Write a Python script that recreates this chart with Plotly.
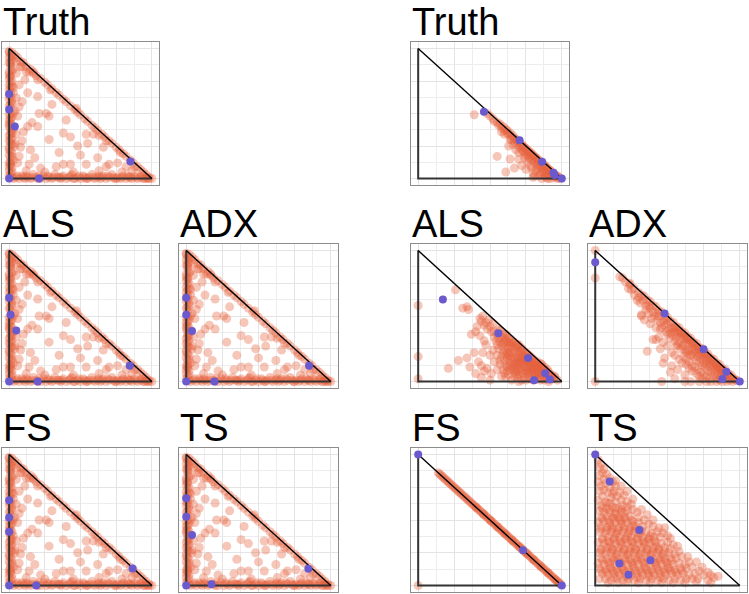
import plotly.graph_objects as go

# ---------------- data ----------------
# simplex corners (top, origin, right)
simplex_x = [0, 0, 1]
simplex_y = [1, 0, 0]

panel_names = ["Truth", "ALS", "ADX", "FS", "TS"]

# left-hand example: points spread over the whole simplex (shared by all left panels)
left_edge = [(0,0.98),(0.01,0.95),(0,0.93),(0.02,0.91),(0,0.89),(0.01,0.86),(0.03,0.84),(0,0.82),(0.01,0.79),(0,0.77),
             (0.02,0.75),(0,0.72),(0.01,0.70),(0,0.68),(0.03,0.66),(0.01,0.63),(0,0.61),(0.02,0.58),(0,0.56),(0.01,0.54),
             (0.04,0.52),(0,0.49),(0.02,0.47),(0,0.45),(0.01,0.43),(0,0.40),(0.03,0.38),(0.01,0.36),(0,0.33),(0.02,0.31),
             (0,0.29),(0.01,0.27),(0.04,0.25),(0,0.22),(0.02,0.20),(0,0.18),(0.01,0.16),(0.03,0.14),(0,0.12),(0.01,0.10),
             (0.02,0.08),(0,0.06),(0.01,0.04),(0,0.02),(0.02,0.01),(0,0.97),(0.01,0.9),(0,0.8),(0.01,0.74),(0,0.64),
             (0.01,0.5),(0,0.42),(0.01,0.34),(0,0.24),(0.01,0.13),(0,0.09),
             (0.02,0.94),(0.01,0.88),(0.02,0.83),(0.01,0.78),(0.02,0.71),(0.01,0.66),(0.02,0.60),(0.01,0.57),(0.03,0.50),
             (0.01,0.46),(0.02,0.41),(0.01,0.39),(0.02,0.35),(0.01,0.30),(0.02,0.26),(0.01,0.21),(0.02,0.17),(0.01,0.11),
             (0.02,0.05)]
left_bottom = [(0.03,0),(0.05,0.01),(0.07,0),(0.09,0.02),(0.11,0),(0.13,0.01),(0.15,0),(0.17,0.03),(0.19,0.01),(0.22,0),
               (0.24,0.02),(0.26,0),(0.28,0.01),(0.30,0),(0.32,0.03),(0.34,0.01),(0.36,0),(0.38,0.02),(0.40,0),(0.42,0.01),
               (0.44,0.03),(0.46,0),(0.48,0.01),(0.50,0),(0.52,0.02),(0.54,0),(0.56,0.01),(0.58,0.03),(0.60,0),(0.62,0.01),
               (0.64,0),(0.66,0.02),(0.68,0),(0.70,0.01),(0.72,0.03),(0.74,0),(0.76,0.01),(0.78,0),(0.80,0.02),(0.82,0),
               (0.84,0.01),(0.86,0),(0.88,0.02),(0.90,0),(0.92,0.01),(0.94,0),(0.96,0.01),(0.98,0),(1.0,0),(0.1,0.01),
               (0.2,0),(0.35,0.01),(0.45,0),(0.55,0),(0.65,0.01),(0.75,0),(0.85,0.01),(0.95,0),
               (0.06,0.02),(0.12,0.02),(0.16,0.01),(0.21,0.02),(0.27,0.02),(0.31,0.01),(0.37,0.01),(0.43,0.02),(0.49,0.02),
               (0.53,0.01),(0.59,0.01),(0.63,0.02),(0.69,0.02),(0.73,0.01),(0.79,0.01),(0.83,0.02),(0.89,0.01),(0.93,0.02),
               (0.97,0.0)]
left_hyp = [(0.02,0.97),(0.04,0.95),(0.06,0.93),(0.08,0.90),(0.10,0.89),(0.12,0.86),(0.15,0.84),(0.17,0.82),(0.19,0.79),(0.22,0.77),
            (0.25,0.74),(0.27,0.72),(0.30,0.69),(0.33,0.66),(0.35,0.64),(0.38,0.61),(0.40,0.59),(0.43,0.56),(0.46,0.53),(0.48,0.51),
            (0.50,0.49),(0.53,0.46),(0.55,0.44),(0.58,0.41),(0.60,0.39),(0.62,0.37),(0.65,0.34),(0.67,0.32),(0.70,0.29),(0.72,0.27),
            (0.75,0.24),(0.77,0.22),(0.80,0.19),(0.82,0.17),(0.85,0.14),(0.87,0.12),(0.90,0.09),(0.92,0.07),(0.94,0.05),(0.96,0.03),
            (0.98,0.01),(0.09,0.86),(0.14,0.82),(0.20,0.76),(0.63,0.33),(0.68,0.29),(0.78,0.2),(0.88,0.09)]
left_inner = [(0.05,0.90),(0.08,0.86),(0.12,0.82),(0.05,0.81),(0.17,0.81),(0.11,0.76),(0.07,0.72),(0.09,0.59),(0.07,0.55),(0.21,0.50),
              (0.26,0.50),(0.28,0.48),(0.20,0.40),(0.16,0.43),(0.13,0.40),(0.10,0.36),(0.05,0.34),(0.38,0.35),(0.43,0.32),(0.54,0.34),
              (0.59,0.34),(0.48,0.25),(0.15,0.22),(0.08,0.24),(0.07,0.17),(0.14,0.11),(0.22,0.08),(0.33,0.09),(0.38,0.11),(0.43,0.11),
              (0.54,0.11),(0.68,0.09),(0.70,0.11),(0.63,0.06),(0.86,0.06),(0.79,0.05),(0.30,0.57),(0.29,0.68),(0.47,0.54),(0.55,0.27),
              (0.66,0.24),(0.05,0.62),(0.06,0.48),(0.09,0.29),(0.04,0.27),(0.25,0.05),(0.45,0.05),(0.12,0.06),(0.18,0.16),(0.35,0.20),
              (0.62,0.16),(0.76,0.12),(0.82,0.09),(0.40,0.45),(0.13,0.66),(0.20,0.63),(0.03,0.70),(0.06,0.12),(0.28,0.30),(0.50,0.18)]
left_points = left_edge + left_bottom + left_hyp + left_inner

left_anchors = {
    "Truth": [(0,0.65),(0,0.53),(0.04,0.40),(0.85,0.13),(0,0),(0.21,0)],
    "ALS":   [(0,0.64),(0.01,0.51),(0.05,0.39),(0.845,0.12),(0,0),(0.20,0)],
    "ADX":   [(0,0.64),(0,0.51),(0.04,0.385),(0.85,0.12),(0,0),(0.195,0)],
    "FS":    [(0,0.65),(0,0.52),(0,0.41),(0.865,0.13),(0,0),(0.19,0)],
    "TS":    [(0,0.667),(0,0.525),(0.04,0.385),(0.845,0.128),(0,0),(0.175,0.01)],
}

# right-hand example
right_truth = [(0.39,0.49),(0.55,0.17),(0.67,0.08),(0.61,0.05),(0.72,0.10),(0.64,0.15),(0.70,0.15),
               (0.48,0.50),(0.50,0.48),(0.52,0.46),(0.53,0.44),(0.55,0.43),(0.56,0.41),(0.57,0.42),(0.58,0.39),(0.59,0.40),
               (0.60,0.37),(0.61,0.38),(0.62,0.35),(0.62,0.37),(0.63,0.34),(0.64,0.35),(0.65,0.32),(0.65,0.30),(0.66,0.33),
               (0.67,0.31),(0.67,0.28),(0.68,0.30),(0.69,0.29),(0.69,0.26),(0.70,0.28),(0.71,0.27),(0.71,0.24),(0.72,0.26),
               (0.72,0.22),(0.73,0.25),(0.73,0.21),(0.74,0.24),(0.74,0.20),(0.75,0.23),(0.75,0.18),(0.76,0.22),(0.76,0.19),
               (0.77,0.21),(0.77,0.16),(0.78,0.20),(0.78,0.17),(0.79,0.19),(0.79,0.14),(0.80,0.18),(0.80,0.15),(0.81,0.17),
               (0.81,0.12),(0.82,0.16),(0.82,0.13),(0.83,0.15),(0.83,0.10),(0.84,0.14),(0.84,0.11),(0.85,0.13),(0.85,0.08),
               (0.86,0.12),(0.86,0.09),(0.87,0.11),(0.87,0.06),(0.88,0.10),(0.88,0.07),(0.89,0.09),(0.89,0.05),(0.90,0.08),
               (0.90,0.04),(0.91,0.07),(0.91,0.03),(0.92,0.06),(0.92,0.02),(0.93,0.05),(0.93,0.03),(0.94,0.04),(0.94,0.01),
               (0.95,0.03),(0.95,0.02),(0.96,0.02),(0.96,0.01),(0.97,0.02),(0.97,0.0),(0.98,0.01),(0.99,0.0),(0.88,0.02),
               (0.85,0.03),(0.82,0.06),(0.78,0.10),(0.76,0.13),(0.80,0.04),(0.84,0.02),(0.86,0.0),(0.90,0.0),(0.74,0.16),
               (0.70,0.20),(0.68,0.22),(0.66,0.26),(0.64,0.30),(0.60,0.34),(0.58,0.36),(0.63,0.25),(0.75,0.07),(0.80,0.01),
               (0.92,0.0),(0.86,0.05),(0.83,0.08),(0.79,0.08),(0.81,0.02),(0.89,0.01)]
right_truth_anchors = [(0.458,0.513),(0.706,0.295),(0.863,0.128),(0.942,0.044),(0.95,0.026),(1,0)]

right_als = [(0.47,0.45),(0.50,0.42),(0.52,0.44),(0.49,0.47),(0.45,0.50),
             (0.53,0.38),(0.55,0.36),(0.57,0.39),(0.59,0.36),(0.56,0.33),(0.60,0.33),(0.62,0.35),
             (0.54,0.31),(0.57,0.30),(0.59,0.29),(0.61,0.31),(0.63,0.30),(0.65,0.32),(0.66,0.29),(0.58,0.27),(0.62,0.27),
             (0.56,0.25),(0.60,0.24),(0.63,0.25),(0.65,0.26),(0.67,0.24),(0.69,0.26),(0.70,0.28),(0.64,0.22),(0.68,0.21),
             (0.71,0.23),(0.61,0.21),(0.58,0.19),(0.62,0.18),(0.65,0.19),(0.67,0.17),(0.70,0.19),(0.72,0.20),(0.74,0.22),
             (0.76,0.21),(0.73,0.17),(0.69,0.15),(0.63,0.15),(0.60,0.16),(0.78,0.19),(0.57,0.13),(0.61,0.12),(0.64,0.12),
             (0.67,0.13),(0.70,0.12),(0.72,0.14),(0.75,0.15),(0.77,0.16),(0.79,0.15),(0.81,0.16),(0.83,0.15),(0.74,0.11),
             (0.78,0.12),(0.80,0.13),(0.59,0.09),(0.62,0.08),(0.66,0.09),(0.69,0.08),(0.72,0.09),(0.75,0.08),(0.77,0.10),
             (0.80,0.09),(0.82,0.11),(0.84,0.12),(0.86,0.11),(0.85,0.08),(0.83,0.07),(0.79,0.06),(0.73,0.06),(0.88,0.09),
             (0.87,0.06),(0.58,0.04),(0.63,0.05),(0.67,0.04),(0.70,0.05),(0.74,0.03),(0.77,0.04),(0.81,0.04),(0.84,0.05),
             (0.88,0.04),(0.90,0.06),(0.92,0.05),(0.89,0.02),(0.93,0.02),(0.95,0.03),(0.86,0.02),(0.80,0.01),(0.72,0.01),
             (0.65,0.01),(0.97,0.01),(0.91,0.0),
             (0.26,0.70),(0.31,0.56),(0.34,0.57),(0.35,0.55),(0.43,0.48),(0.46,0.43),(0.40,0.38),(0.37,0.36),(0.46,0.31),
             (0.47,0.28),(0.39,0.22),(0.34,0.18),(0.28,0.16),(0.21,0.10),(0.50,0.20),(0.53,0.15),(0.48,0.10),(0.51,0.06),
             (0.55,0.09),(0.50,0.01),(0.0,0.58),(0.0,0.19),(0.0,0.02),(0.44,0.03),(0.52,0.24),(0.55,0.20),
             (0.60,0.30),(0.64,0.28),(0.68,0.27),(0.66,0.22),(0.70,0.22),(0.72,0.25),(0.75,0.18),(0.71,0.16),(0.66,0.15),
             (0.68,0.10),(0.71,0.10),(0.76,0.13),(0.79,0.10),(0.81,0.07),(0.76,0.06),(0.69,0.03),(0.78,0.02),(0.83,0.02),
             (0.86,0.13),(0.88,0.11),(0.90,0.09),(0.84,0.10),(0.82,0.14),(0.80,0.17),(0.85,0.14),(0.73,0.13),(0.77,0.07),
             (0.82,0.05),(0.86,0.07),(0.74,0.19),(0.69,0.18),(0.63,0.20),(0.67,0.07),(0.61,0.03),
             (0.56,0.40),(0.58,0.34),(0.61,0.36),(0.63,0.33),(0.65,0.30),(0.67,0.30),(0.69,0.28),(0.71,0.26),(0.73,0.24),
             (0.75,0.22),(0.77,0.20),(0.79,0.18),(0.81,0.14),(0.83,0.12),(0.85,0.11),(0.87,0.10),(0.89,0.08),(0.91,0.07),
             (0.93,0.05),(0.95,0.04),(0.62,0.22),(0.64,0.17),(0.66,0.11),(0.68,0.14),(0.70,0.14),(0.72,0.18),(0.74,0.16),
             (0.76,0.16),(0.78,0.14),(0.80,0.11),(0.82,0.09),(0.84,0.07),(0.86,0.05),(0.88,0.06),(0.90,0.03),(0.92,0.03),
             (0.94,0.02),(0.60,0.06),(0.64,0.09),(0.68,0.06),(0.72,0.07),(0.76,0.10),(0.78,0.08),(0.82,0.03),(0.85,0.01),
             (0.88,0.01),(0.75,0.01),(0.70,0.00),(0.62,0.11),(0.59,0.22),(0.57,0.16),(0.55,0.28),(0.53,0.34),(0.51,0.38),
             (0.48,0.40),(0.44,0.46),(0.41,0.42),(0.43,0.35),(0.45,0.22),(0.42,0.15),(0.46,0.08),(0.40,0.06),(0.36,0.11),
             (0.44,0.12)]
right_als_anchors = [(0.172,0.626),(0.558,0.369),(0.765,0.18),(0.884,0.062),(0.807,0.01),(0.916,0.015)]

right_adx = [(0.17,0.80),(0.19,0.79),(0.24,0.74),(0.27,0.71),(0.30,0.68),(0.32,0.66),(0.34,0.65),(0.36,0.62),(0.38,0.61),
             (0.40,0.58),(0.42,0.57),(0.44,0.54),(0.46,0.53),(0.48,0.50),(0.50,0.49),(0.52,0.46),(0.54,0.45),(0.56,0.42),
             (0.58,0.41),(0.60,0.38),(0.62,0.37),(0.64,0.34),(0.66,0.33),(0.68,0.30),(0.70,0.29),(0.72,0.26),(0.74,0.25),
             (0.76,0.22),(0.78,0.21),(0.80,0.18),(0.82,0.17),(0.84,0.14),(0.86,0.13),(0.88,0.10),(0.90,0.09),(0.92,0.06),
             (0.94,0.05),(0.96,0.02),(0.98,0.01),
             (0.30,0.64),(0.35,0.58),(0.40,0.53),(0.44,0.50),(0.47,0.46),(0.50,0.44),(0.53,0.41),(0.55,0.38),(0.57,0.37),
             (0.59,0.34),(0.61,0.33),(0.63,0.30),(0.65,0.29),(0.67,0.26),(0.69,0.25),(0.71,0.22),(0.73,0.21),(0.75,0.18),
             (0.77,0.17),(0.79,0.14),(0.81,0.13),(0.83,0.10),(0.85,0.09),(0.87,0.06),(0.89,0.05),(0.91,0.02),(0.93,0.01),
             (0.95,0.0),
             (0.32,0.50),(0.42,0.41),(0.45,0.40),(0.50,0.36),(0.52,0.33),(0.55,0.31),(0.57,0.28),(0.60,0.27),(0.62,0.24),
             (0.64,0.23),(0.66,0.20),(0.68,0.19),(0.70,0.16),(0.72,0.15),(0.74,0.12),(0.76,0.11),(0.78,0.08),(0.80,0.07),
             (0.82,0.04),(0.84,0.03),(0.86,0.01),(0.88,0.0),
             (0.42,0.32),(0.40,0.32),(0.36,0.23),(0.47,0.30),(0.50,0.27),(0.53,0.22),(0.55,0.20),(0.58,0.17),(0.60,0.14),
             (0.63,0.13),(0.65,0.10),(0.67,0.08),(0.70,0.06),(0.72,0.04),(0.74,0.02),(0.62,0.05),(0.57,0.09),(0.53,0.12),
             (0.48,0.18),(0.45,0.25),(0.66,0.0),(0.77,0.0),(0.55,0.02),
             (0,1),(0,0.79),(0,0),(0.46,0),(0.24,0.75),(0.32,0.51),(0.38,0.56),(0.29,0.62),(0.23,0.71),(0.21,0.76),
             (0.85,0.11),(0.87,0.09),(0.89,0.07),(0.91,0.05),(0.93,0.04),(0.95,0.02),(0.97,0.01),(0.90,0.06),(0.88,0.08),
             (0.86,0.10),(0.84,0.12),(0.82,0.15),(0.80,0.16),(0.78,0.19),(0.76,0.20),(0.74,0.23),(0.72,0.24),(0.70,0.27),
             (0.68,0.28),(0.66,0.31),(0.64,0.32),(0.62,0.35),(0.60,0.36),(0.58,0.39),
             (0.35,0.55),(0.37,0.52),(0.39,0.48),(0.41,0.50),(0.43,0.47),(0.45,0.45),(0.46,0.41),(0.48,0.43),(0.49,0.38),
             (0.51,0.40),(0.52,0.37),(0.54,0.35),(0.54,0.40),(0.56,0.34),(0.56,0.27),(0.58,0.30),(0.59,0.25),(0.61,0.28),
             (0.61,0.19),(0.63,0.22),(0.63,0.17),(0.65,0.24),(0.65,0.15),(0.67,0.21),(0.67,0.12),(0.69,0.22),(0.69,0.11),
             (0.71,0.19),(0.71,0.09),(0.73,0.17),(0.73,0.07),(0.75,0.14),(0.75,0.05),(0.77,0.13),(0.77,0.04),(0.79,0.11),
             (0.79,0.02),(0.81,0.09),(0.83,0.06),(0.85,0.05),(0.87,0.03),(0.89,0.02),(0.91,0.0),(0.84,0.0),(0.80,0.0),
             (0.72,0.0),(0.62,0.0),(0.52,0.07),(0.47,0.14),(0.44,0.34),(0.38,0.44),(0.34,0.47),(0.27,0.66),(0.25,0.70),
             (0.31,0.60),(0.33,0.62),(0.37,0.58),(0.43,0.52),(0.49,0.47),(0.55,0.41),(0.59,0.37),(0.63,0.33),(0.67,0.29),
             (0.71,0.25),(0.75,0.21),(0.79,0.17),(0.83,0.13),(0.87,0.09),(0.91,0.05)]
right_adx_anchors = [(0,0.91),(0.48,0.52),(0.75,0.246),(0.907,0.074),(0.88,0.018),(1,0)]

right_fs = [(0.14,0.86),(0.15,0.85),(0.16,0.84),(0.17,0.83),(0.18,0.82),(0.19,0.81),(0.20,0.80),(0.21,0.79),(0.22,0.78),
            (0.23,0.77),(0.24,0.76),(0.25,0.75),(0.26,0.74),(0.27,0.73),(0.28,0.72),(0.29,0.71),(0.30,0.70),(0.31,0.69),
            (0.32,0.68),(0.33,0.67),(0.34,0.66),(0.35,0.65),(0.36,0.64),(0.37,0.63),(0.38,0.62),(0.39,0.61),(0.40,0.60),
            (0.41,0.59),(0.42,0.58),(0.43,0.57),(0.44,0.56),(0.45,0.55),(0.46,0.54),(0.47,0.53),(0.48,0.52),(0.49,0.51),
            (0.50,0.50),(0.51,0.49),(0.52,0.48),(0.53,0.47),(0.54,0.46),(0.55,0.45),(0.56,0.44),(0.57,0.43),(0.58,0.42),
            (0.59,0.41),(0.60,0.40),(0.61,0.39),(0.62,0.38),(0.63,0.37),(0.64,0.36),(0.65,0.35),(0.66,0.34),(0.67,0.33),
            (0.68,0.32),(0.69,0.31),(0.70,0.30),(0.71,0.29),(0.72,0.28),(0.73,0.27),(0.74,0.26),(0.75,0.25),(0.76,0.24),
            (0.77,0.23),(0.78,0.22),(0.79,0.21),(0.80,0.20),(0.81,0.19),(0.82,0.18),(0.83,0.17),(0.84,0.16),(0.85,0.15),
            (0.86,0.14),(0.87,0.13),(0.88,0.12),(0.89,0.11),(0.90,0.10),(0.91,0.09),(0.92,0.08),(0.93,0.07),(0.94,0.06),
            (0.95,0.05),(0.96,0.04),(0.97,0.03),(0.98,0.02),(0.99,0.01),(0.405,0.595),(0.455,0.545),(0.505,0.495),
            (0.555,0.445),(0.605,0.395),(0.655,0.345),(0.705,0.295),(0.755,0.245),(0.805,0.195),(0.855,0.145),
            (0.905,0.095),(0.955,0.045),(0.985,0.015),(0.0,0.0)]
right_fs_anchors = [(0,1),(0.73,0.268),(1,0)]

right_ts = [(0.02,0.96),(0.04,0.93),(0.03,0.90),(0.06,0.89),(0.05,0.86),(0.08,0.85),(0.03,0.84),(0.10,0.82),(0.06,0.81),
            (0.02,0.79),(0.07,0.78),(0.12,0.79),(0.14,0.76),(0.04,0.76),(0.10,0.75),
            (0.03,0.72),(0.06,0.73),(0.09,0.71),(0.13,0.72),(0.17,0.71),(0.20,0.69),(0.15,0.68),(0.05,0.68),(0.11,0.67),
            (0.02,0.65),(0.07,0.64),(0.10,0.63),(0.14,0.64),(0.18,0.65),(0.22,0.64),(0.25,0.62),(0.19,0.61),(0.04,0.61),
            (0.12,0.60),(0.16,0.59),(0.08,0.59),
            (0.03,0.57),(0.06,0.56),(0.10,0.56),(0.14,0.55),(0.18,0.56),(0.22,0.57),(0.26,0.58),(0.29,0.56),(0.24,0.53),
            (0.20,0.52),(0.16,0.52),(0.12,0.52),(0.08,0.53),(0.04,0.52),(0.30,0.52),
            (0.02,0.48),(0.06,0.49),(0.10,0.48),(0.14,0.48),(0.18,0.49),(0.22,0.48),(0.26,0.49),(0.30,0.48),(0.34,0.50),
            (0.37,0.47),(0.33,0.45),(0.28,0.45),(0.24,0.44),(0.20,0.45),(0.16,0.44),(0.12,0.45),(0.08,0.44),(0.04,0.45),
            (0.40,0.45),(0.44,0.44),
            (0.03,0.41),(0.07,0.40),(0.11,0.41),(0.15,0.40),(0.19,0.41),(0.23,0.40),(0.27,0.41),(0.31,0.40),(0.35,0.41),
            (0.39,0.40),(0.43,0.41),(0.47,0.40),(0.50,0.38),(0.45,0.37),(0.41,0.37),(0.37,0.36),(0.33,0.37),(0.29,0.36),
            (0.25,0.37),(0.21,0.36),(0.17,0.37),(0.13,0.36),(0.09,0.37),(0.05,0.36),
            (0.02,0.33),(0.06,0.32),(0.10,0.33),(0.14,0.32),(0.18,0.33),(0.22,0.32),(0.26,0.33),(0.30,0.32),(0.34,0.33),
            (0.38,0.32),(0.42,0.33),(0.46,0.32),(0.50,0.33),(0.54,0.31),(0.52,0.28),(0.48,0.29),(0.44,0.28),(0.40,0.29),
            (0.36,0.28),(0.32,0.29),(0.28,0.28),(0.24,0.29),(0.20,0.28),(0.16,0.29),(0.12,0.28),(0.08,0.29),(0.04,0.28),
            (0.03,0.25),(0.07,0.24),(0.11,0.25),(0.15,0.24),(0.19,0.25),(0.23,0.24),(0.27,0.25),(0.31,0.24),(0.35,0.25),
            (0.39,0.24),(0.43,0.25),(0.47,0.24),(0.51,0.25),(0.55,0.24),(0.58,0.26),(0.60,0.22),(0.56,0.21),(0.52,0.21),
            (0.48,0.20),(0.44,0.21),(0.40,0.20),(0.36,0.21),(0.32,0.20),(0.28,0.21),(0.24,0.20),(0.20,0.21),(0.16,0.20),
            (0.12,0.21),(0.08,0.20),(0.04,0.21),
            (0.02,0.17),(0.06,0.16),(0.10,0.17),(0.14,0.16),(0.18,0.17),(0.22,0.16),(0.26,0.17),(0.30,0.16),(0.34,0.17),
            (0.38,0.16),(0.42,0.17),(0.46,0.16),(0.50,0.17),(0.54,0.16),(0.58,0.17),(0.62,0.16),(0.65,0.18),(0.67,0.14),
            (0.63,0.13),(0.59,0.13),(0.55,0.12),(0.51,0.13),(0.47,0.12),(0.43,0.13),(0.39,0.12),(0.35,0.13),(0.31,0.12),
            (0.27,0.13),(0.23,0.12),(0.19,0.13),(0.15,0.12),(0.11,0.13),(0.07,0.12),(0.03,0.13),
            (0.05,0.09),(0.09,0.08),(0.13,0.09),(0.17,0.08),(0.21,0.09),(0.25,0.08),(0.29,0.09),(0.33,0.08),(0.37,0.09),
            (0.41,0.08),(0.45,0.09),(0.49,0.08),(0.53,0.09),(0.57,0.08),(0.61,0.09),(0.65,0.08),(0.69,0.09),(0.72,0.11),
            (0.75,0.08),(0.78,0.10),(0.71,0.05),(0.67,0.05),(0.63,0.05),(0.59,0.04),(0.55,0.05),(0.51,0.04),(0.47,0.05),
            (0.43,0.04),(0.39,0.05),(0.35,0.04),(0.31,0.05),(0.27,0.04),(0.23,0.05),(0.19,0.04),(0.15,0.05),(0.11,0.04),
            (0.07,0.05),(0.03,0.05),
            (0.09,0.02),(0.16,0.02),(0.22,0.03),(0.30,0.02),(0.38,0.02),(0.46,0.02),(0.54,0.02),(0.62,0.02),(0.70,0.03),
            (0.78,0.04),(0.82,0.06),(0.85,0.07),(0.80,0.02),
            (0.48,0.44),(0.52,0.36),(0.57,0.30),(0.64,0.22),(0.70,0.18),(0.74,0.14),(0.80,0.08),(0.22,0.72),(0.18,0.76),
            (0.14,0.80),(0.26,0.66),(0.32,0.58),(0.36,0.54),(0.40,0.50),
            (0.04,0.11),(0.08,0.10),(0.12,0.11),(0.16,0.10),(0.20,0.11),(0.24,0.10),(0.28,0.11),(0.32,0.10),(0.36,0.11),
            (0.40,0.10),(0.44,0.11),(0.48,0.10),(0.52,0.11),(0.56,0.10),(0.60,0.11),
            (0.05,0.19),(0.09,0.18),(0.13,0.19),(0.17,0.18),(0.21,0.19),(0.25,0.18),(0.29,0.19),(0.33,0.18),(0.37,0.19),
            (0.41,0.18),(0.45,0.19),(0.49,0.18),(0.53,0.19),
            (0.04,0.27),(0.08,0.26),(0.12,0.27),(0.16,0.26),(0.20,0.27),(0.24,0.26),(0.28,0.27),(0.32,0.26),(0.36,0.27),
            (0.40,0.26),(0.44,0.27),(0.48,0.26),
            (0.05,0.35),(0.09,0.34),(0.13,0.35),(0.17,0.34),(0.21,0.35),(0.25,0.34),(0.29,0.35),(0.33,0.34),(0.37,0.35),
            (0.41,0.34),
            (0.04,0.43),(0.08,0.42),(0.12,0.43),(0.16,0.42),(0.20,0.43),(0.24,0.42),(0.28,0.43),(0.32,0.42),
            (0.05,0.51),(0.09,0.50),(0.13,0.51),(0.17,0.50),(0.21,0.51),(0.25,0.50),
            (0.05,0.59),(0.10,0.58),(0.14,0.59),(0.18,0.58),(0.22,0.60),
            (0.13,0.06),(0.21,0.07),(0.29,0.06),(0.37,0.07),(0.45,0.06),
            (0.10,0.14),(0.18,0.14),(0.26,0.15),(0.34,0.14),(0.42,0.15),(0.50,0.14),(0.14,0.22),(0.22,0.23),(0.30,0.22),
            (0.38,0.23),(0.46,0.22),(0.10,0.30),(0.18,0.31),(0.26,0.30),(0.34,0.31),(0.42,0.30),(0.14,0.39),(0.22,0.38),
            (0.30,0.39),(0.38,0.38),(0.10,0.46),(0.18,0.47),(0.26,0.46),(0.14,0.54),(0.20,0.55),(0.08,0.63),(0.12,0.70)]
right_ts_anchors = [(0,1),(0.10,0.795),(0.305,0.423),(0.382,0.192),(0.167,0.167),(0.23,0.082)]

right_sets = {"Truth": (right_truth, right_truth_anchors),
              "ALS": (right_als, right_als_anchors),
              "ADX": (right_adx, right_adx_anchors),
              "FS": (right_fs, right_fs_anchors),
              "TS": (right_ts, right_ts_anchors)}

# ---------------- layout ----------------
W, H = 749, 594
cols = [(2, 159), (179, 338), (411, 569), (588, 747)]
rows = [(42, 185), (244, 388), (448, 592)]
left_pos = {"Truth": (0, 0), "ALS": (0, 1), "ADX": (1, 1), "FS": (0, 2), "TS": (1, 2)}
right_pos = {"Truth": (2, 0), "ALS": (2, 1), "ADX": (3, 1), "FS": (2, 2), "TS": (3, 2)}

PT_COLOR = "#E5603E"
ANCHOR_COLOR = "#6A5ACD"
FONT = "Liberation Sans, Arial, sans-serif"

fig = go.Figure()
layout = dict(width=W, height=H, margin=dict(l=0, r=0, t=0, b=0),
              paper_bgcolor="white", plot_bgcolor="white", showlegend=False,
              font=dict(family=FONT))
annotations = []

panels = []
for name in panel_names:
    panels.append((left_pos[name], name, left_points, left_anchors[name]))
for name in panel_names:
    pts, anc = right_sets[name]
    panels.append((right_pos[name], name, pts, anc))

for i, ((c, r), name, pts, anc) in enumerate(panels):
    idx = "" if i == 0 else str(i + 1)
    xa, ya = "x" + idx, "y" + idx
    x0, x1 = cols[c]
    y0, y1 = rows[r]
    axcommon = dict(range=[-0.05, 1.05], showticklabels=False, ticks="", zeroline=False,
                    showgrid=True, gridcolor="#E4E4E4", gridwidth=1, dtick=0.25, tick0=0,
                    minor=dict(dtick=0.125, showgrid=True, gridcolor="#EDEDED", gridwidth=1),
                    showline=True, mirror=True, linecolor="#8C8C8C", linewidth=1, fixedrange=True)
    layout["xaxis" + idx] = dict(axcommon, domain=[x0 / W, x1 / W], anchor=ya)
    layout["yaxis" + idx] = dict(axcommon, domain=[1 - y1 / H, 1 - y0 / H], anchor=xa)

    fig.add_trace(go.Scatter(x=[p[0] for p in pts], y=[p[1] for p in pts], mode="markers",
                             marker=dict(size=9, color=PT_COLOR, opacity=0.36, line=dict(width=0)),
                             xaxis=xa, yaxis=ya, hoverinfo="skip"))
    fig.add_trace(go.Scatter(x=simplex_x, y=simplex_y, mode="lines",
                             line=dict(color="#333333", width=2), xaxis=xa, yaxis=ya, hoverinfo="skip"))
    fig.add_trace(go.Scatter(x=[simplex_x[0], simplex_x[2]], y=[simplex_y[0], simplex_y[2]], mode="lines",
                             line=dict(color="black", width=1.4), xaxis=xa, yaxis=ya, hoverinfo="skip"))
    fig.add_trace(go.Scatter(x=[p[0] for p in anc], y=[p[1] for p in anc], mode="markers",
                             marker=dict(size=8, color=ANCHOR_COLOR, line=dict(width=0)),
                             xaxis=xa, yaxis=ya, hoverinfo="skip"))
    annotations.append(dict(text=name, xref="paper", yref="paper", x=x0 / W, y=1 - (y0 + 2) / H,
                            xanchor="left", yanchor="bottom", showarrow=False, borderpad=0,
                            font=dict(size=38, color="black", family=FONT)))

layout["annotations"] = annotations
fig.update_layout(**layout)
fig.write_html("out.html", config={"displayModeBar": False},
               post_script="document.body.style.margin='0px';document.body.style.padding='0px';")
